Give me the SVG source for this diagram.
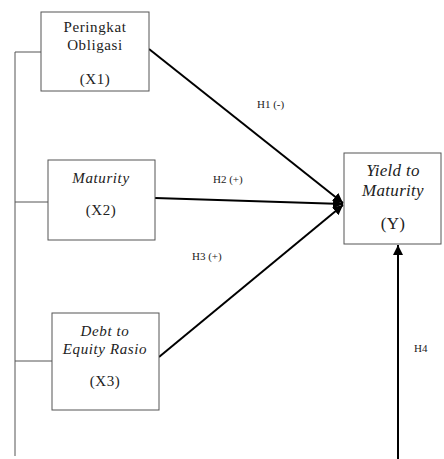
<svg xmlns="http://www.w3.org/2000/svg" width="444" height="459" viewBox="0 0 444 459">
<style>
.box{fill:#fff;stroke:#555;stroke-width:1}
.t{font-family:"Liberation Serif",serif;font-size:15px;fill:#222;text-anchor:middle;letter-spacing:0.6px}
.i{font-style:italic}
.big{font-size:17px;letter-spacing:0.3px}
.lab{font-family:"Liberation Serif",serif;font-size:11px;fill:#222}
.thin{stroke:#555;stroke-width:1;fill:none}
.arr{stroke:#000;stroke-width:2;fill:none}
</style>
<defs>
<marker id="ah" viewBox="0 0 10 10" refX="10" refY="5" markerWidth="5" markerHeight="5" orient="auto" markerUnits="strokeWidth">
<path d="M0,0 L10,5 L0,10 z" fill="#000"/>
</marker>
</defs>
<rect width="444" height="459" fill="#fff"/>
<g id="connectors">
<path class="thin" d="M15,456 V52 H41 M15,202 H48 M15,361 H52"/>
<line class="arr" x1="149" y1="49" x2="343" y2="203" marker-end="url(#ah)"/>
<line class="arr" x1="155" y1="198" x2="343" y2="204" marker-end="url(#ah)"/>
<line class="arr" x1="159" y1="357" x2="343" y2="205" marker-end="url(#ah)"/>
<line class="arr" x1="398" y1="459" x2="398" y2="245" marker-end="url(#ah)"/>
<text class="lab" x="257" y="108">H1 (-)</text>
<text class="lab" x="213" y="183">H2 (+)</text>
<text class="lab" x="192" y="260">H3 (+)</text>
<text class="lab" x="414" y="352">H4</text>
</g>
<g id="x1">
<rect class="box" x="41" y="12" width="108" height="79"/>
<text class="t" x="95" y="32">Peringkat</text>
<text class="t" x="95" y="50">Obligasi</text>
<text class="t" x="95" y="84">(X1)</text>
</g>
<g id="x2">
<rect class="box" x="48" y="160" width="107" height="80"/>
<text class="t i" x="101" y="183">Maturity</text>
<text class="t" x="101" y="215">(X2)</text>
</g>
<g id="x3">
<rect class="box" x="52" y="313" width="107" height="97"/>
<text class="t i" x="105" y="336">Debt to</text>
<text class="t i" x="105" y="354">Equity Rasio</text>
<text class="t" x="105" y="386">(X3)</text>
</g>
<g id="y">
<rect class="box" x="344" y="153" width="97" height="91"/>
<text class="t i big" x="393" y="176">Yield to</text>
<text class="t i big" x="393" y="196">Maturity</text>
<text class="t big" x="393" y="229">(Y)</text>
</g>
</svg>
